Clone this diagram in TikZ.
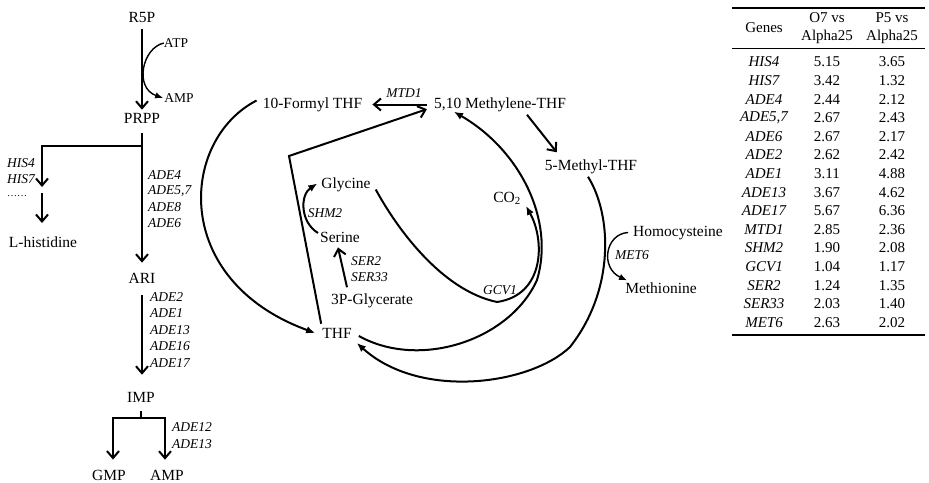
\documentclass[tikz,border=0pt]{standalone}
\usepackage{fontspec}
\setmainfont{Liberation Serif}
\usetikzlibrary{arrows.meta,calc}
\begin{document}
\begin{tikzpicture}[x=1pt,y=-1pt,
  lbl/.style={inner sep=0pt, font=\fontsize{15.5}{17}\selectfont},
  gene/.style={inner sep=0pt, font=\fontsize{13.5}{15}\selectfont\itshape},
  small/.style={inner sep=0pt, font=\fontsize{13.5}{15}\selectfont},
  tab/.style={inner sep=0pt, font=\fontsize{15}{17}\selectfont},
  tabg/.style={inner sep=0pt, font=\fontsize{15}{17}\selectfont\itshape},
  ln/.style={line width=2pt},
  oarr/.style={ln, -{Straight Barb[length=7pt,width=12pt]}},
  farr/.style={ln, -{Latex[length=9pt,width=7.5pt]}},
  tarr/.style={line width=1.4pt, -{Latex[length=8pt,width=6.5pt]}},
]
\useasboundingbox (0,0) rectangle (929,482);

% ---------- left pathway ----------
\node[lbl] (r5p) at (142,18) {R5P};
\node[lbl] (prpp) at (142,118) {PRPP};
\node[small] (atp) at (176,43) {ATP};
\node[small] (ampa) at (179,98) {AMP};
\node[gene, anchor=east] (his4) at (35,163) {HIS4};
\node[gene, anchor=east] (his7) at (35,179) {HIS7};
\node[inner sep=0pt, font=\fontsize{10}{12}\selectfont] (dots) at (17,196) {……};
\node[lbl] (lhis) at (43,242) {L-histidine};
\node[gene, anchor=west] (ade4) at (148,175) {ADE4};
\node[gene, anchor=west] (ade57) at (148,191.5) {ADE5,7};
\node[gene, anchor=west] (ade8) at (148,207.5) {ADE8};
\node[gene, anchor=west] (ade6) at (148,223) {ADE6};
\node[lbl] (ari) at (142,278) {ARI};
\node[gene, anchor=west] (ade2) at (150,297) {ADE2};
\node[gene, anchor=west] (ade1) at (150,313.5) {ADE1};
\node[gene, anchor=west] (ade13) at (150,330) {ADE13};
\node[gene, anchor=west] (ade16) at (150,346.5) {ADE16};
\node[gene, anchor=west] (ade17) at (150,363) {ADE17};
\node[lbl] (imp) at (141,397) {IMP};
\node[gene, anchor=west] (ade12) at (172,427) {ADE12};
\node[gene, anchor=west] (ade13b) at (172,444) {ADE13};
\node[lbl] (gmp) at (109,475) {GMP};
\node[lbl] (ampb) at (167,475) {AMP};

\draw[oarr] ($(r5p.south)+(0,6)$) -- ($(prpp.north)+(0,-3)$);
\draw[tarr] (atp.west) .. controls (142,48) and (134,88) .. ($(ampa.west)+(-1,0)$);
\draw[oarr] ($(prpp.south)+(0,10)$) -- ($(ari.north)+(0,-10)$);
\coordinate (br) at (142,146);
\coordinate (hisA) at (42,187);
\coordinate (hisB) at (42,193);
\draw[oarr] (br) -| (hisA);
\draw[oarr] (hisB) -- (42,223);
\draw[oarr] ($(ari.south)+(0,12)$) -- ($(imp.north)+(1,-17)$);
\coordinate (impj) at (141,418);
\draw[ln] ($(imp.south)+(0,9)$) -- (impj);
\draw[oarr] (impj) -| ($(gmp.north)+(4,-10)$);
\draw[oarr] (impj) -| ($(ampb.north)+(-2,-10)$);

% ---------- folate cycle ----------
\node[lbl] (formyl) at (312.5,104.5) {10-Formyl THF};
\node[lbl] (methylene) at (500,104.5) {5,10 Methylene-THF};
\node[gene] (mtd1) at (404,93) {MTD1};
\node[lbl] (thf) at (337,333) {THF};
\node[lbl] (gly) at (346,184.5) {Glycine};
\node[lbl] (ser) at (340,237) {Serine};
\node[gene] (shm2) at (325,213) {SHM2};
\node[lbl] (pg) at (372,300.5) {3P-Glycerate};
\node[gene, anchor=west] (ser2) at (351,261) {SER2};
\node[gene, anchor=west] (ser33) at (351,277) {SER33};
\node[lbl] (co2) at (507,198) {CO\textsubscript{2}};
\node[gene] (gcv1) at (500,290) {GCV1};
\node[lbl] (mthf) at (591,166.5) {5-Methyl-THF};
\node[lbl] (hcy) at (678,233.5) {Homocysteine};
\node[gene] (met6) at (632,255) {MET6};
\node[lbl] (met) at (661,288) {Methionine};

\draw[oarr] ($(methylene.west)+(-7,0)$) -- ($(formyl.east)+(10,0)$);
\coordinate (pc) at (289,156);
\draw[oarr] ($(thf.north west)+(-1,-4)$) -- (pc) -- ($(methylene.south west)+(-7,-2.6)$);
\draw[farr] ($(formyl.west)+(-6,-4)$) .. controls (180,140) and (170,280) .. ($(thf.west)+(-7,0)$);
\draw[farr] ($(ser.west)+(-2,-4)$) .. controls (300,222) and (300,195) .. ($(gly.west)+(-4,-1)$);
\draw[oarr] ($(pg.north)+(-25,-6)$) -- ($(ser.south)+(-2,5)$);
\coordinate (gcvlow) at (497,302);
\draw[farr] ($(gly.east)+(5,5)$) .. controls (395,225) and (440,290) .. (gcvlow)
  .. controls (545,295) and (545,240) .. (526,206);
\coordinate (thfr) at (537,280);
\draw[farr] ($(thf.east)+(7,3)$) .. controls (420,370) and (510,340) .. (thfr)
  .. controls (555,220) and (520,150) .. ($(methylene.south west)+(20,0)$);
\draw[oarr] ($(methylene.south)+(27,3)$) -- ($(mthf.north west)+(12,-7)$);
\coordinate (mlow) at (570,347);
\draw[farr] ($(mthf.south)+(-3,3)$) .. controls (612,215) and (615,290) .. (mlow)
  .. controls (530,385) and (420,400) .. ($(thf.east)+(5,10)$);
\draw[tarr] ($(hcy.west)+(-5,-1)$) .. controls (605,234) and (600,268) .. ($(met.north west)+(2,-2)$);

% ---------- table ----------
\draw[line width=1.2pt] (732,8) -- (925,8);
\draw[line width=0.8pt] (732,48) -- (925,48);
\draw[line width=2pt] (732,335) -- (925,335);
\node[tab] (hg) at (764,28) {Genes};
\node[tab] (ho1) at (827,18) {O7 vs};
\node[tab] (ho2) at (827,37) {Alpha25};
\node[tab] (hp1) at (892,18) {P5 vs};
\node[tab] (hp2) at (892,37) {Alpha25};

\node[tabg] (g0) at (764,62) {HIS4};   \node[tab] (a0) at (827,62) {5.15};   \node[tab] (b0) at (892,62) {3.65};
\node[tabg] (g1) at (764,80.6) {HIS7};   \node[tab] (a1) at (827,80.6) {3.42};   \node[tab] (b1) at (892,80.6) {1.32};
\node[tabg] (g2) at (764,99.2) {ADE4};   \node[tab] (a2) at (827,99.2) {2.44};   \node[tab] (b2) at (892,99.2) {2.12};
\node[tabg] (g3) at (764,117.8) {ADE5,7};   \node[tab] (a3) at (827,117.8) {2.67};   \node[tab] (b3) at (892,117.8) {2.43};
\node[tabg] (g4) at (764,136.4) {ADE6};   \node[tab] (a4) at (827,136.4) {2.67};   \node[tab] (b4) at (892,136.4) {2.17};
\node[tabg] (g5) at (764,155) {ADE2};   \node[tab] (a5) at (827,155) {2.62};   \node[tab] (b5) at (892,155) {2.42};
\node[tabg] (g6) at (764,173.6) {ADE1};   \node[tab] (a6) at (827,173.6) {3.11};   \node[tab] (b6) at (892,173.6) {4.88};
\node[tabg] (g7) at (764,192.2) {ADE13};   \node[tab] (a7) at (827,192.2) {3.67};   \node[tab] (b7) at (892,192.2) {4.62};
\node[tabg] (g8) at (764,210.8) {ADE17};   \node[tab] (a8) at (827,210.8) {5.67};   \node[tab] (b8) at (892,210.8) {6.36};
\node[tabg] (g9) at (764,229.4) {MTD1};   \node[tab] (a9) at (827,229.4) {2.85};   \node[tab] (b9) at (892,229.4) {2.36};
\node[tabg] (g10) at (764,248) {SHM2};   \node[tab] (a10) at (827,248) {1.90};   \node[tab] (b10) at (892,248) {2.08};
\node[tabg] (g11) at (764,266.6) {GCV1};   \node[tab] (a11) at (827,266.6) {1.04};   \node[tab] (b11) at (892,266.6) {1.17};
\node[tabg] (g12) at (764,285.2) {SER2};   \node[tab] (a12) at (827,285.2) {1.24};   \node[tab] (b12) at (892,285.2) {1.35};
\node[tabg] (g13) at (764,303.8) {SER33};   \node[tab] (a13) at (827,303.8) {2.03};   \node[tab] (b13) at (892,303.8) {1.40};
\node[tabg] (g14) at (764,322.4) {MET6};   \node[tab] (a14) at (827,322.4) {2.63};   \node[tab] (b14) at (892,322.4) {2.02};
\end{tikzpicture}
\end{document}
